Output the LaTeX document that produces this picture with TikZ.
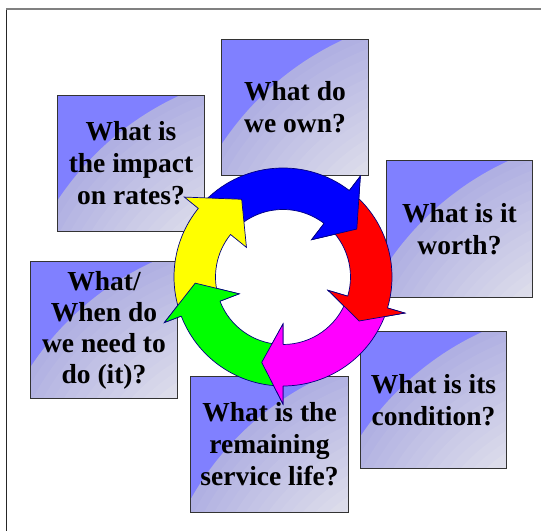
\documentclass[tikz,border=0pt]{standalone}
\usepackage{fontspec}
\setmainfont{Liberation Serif}
\usetikzlibrary{calc,backgrounds}
\definecolor{boxblue}{RGB}{128,128,255}
\definecolor{boxarc}{RGB}{176,176,226}
\definecolor{boxcorner}{RGB}{230,230,236}
\definecolor{rimnavy}{RGB}{0,0,128}
\definecolor{arrblue}{RGB}{0,0,255}
\definecolor{arrred}{RGB}{255,0,0}
\definecolor{arrpink}{RGB}{255,0,255}
\definecolor{arrgreen}{RGB}{0,255,0}
\definecolor{arryellow}{RGB}{255,255,0}
\tikzset{qbox/.style={minimum width=146bp, minimum height=136bp, inner sep=0pt, align=center,
    font=\fontsize{27.5bp}{32bp}\selectfont\bfseries}}
\tikzset{ring/.style={draw=rimnavy, line width=0.7bp}}

\begin{document}
\begin{tikzpicture}[x=1bp,y=1bp]
                    \useasboundingbox (0,0) rectangle (541,531);
                    \draw[gray, line width=2bp] (6,521.5) -- (541,521.5);
                    \draw[black!85, line width=1bp] (6.5,521) -- (6.5,0);

                    \node[qbox] (own) at (295,423.5) {What do\\we own?};
                    \node[qbox] (impact) at (131,367.5) {What is\\the impact\\on rates?};
                    \node[qbox] (worth) at (459.5,302) {What is it\\worth?};
                    \node[qbox, font=\fontsize{27.5bp}{31bp}\selectfont\bfseries] (when) at (104,201) {What/\\When do\\we need to\\do (it)?};
                    \node[qbox] (condition) at (433.5,131) {What is its\\condition?};
                    \node[qbox, minimum width=157bp] (remaining) at (269.5,86.5) {What is the\\remaining\\service life?};

                    % box backgrounds: blue, with a pale glow from the lower right corner
                    \begin{scope}[on background layer]
                    \foreach \b in {own,impact,worth,when,condition,remaining}{
                        \begin{scope}
                        \clip (\b.south west) rectangle (\b.north east);
                        \fill[boxblue] (\b.south west) rectangle (\b.north east);
                        \coordinate (glow) at ($(\b.south east)+(98,-130)$);
                        \foreach \i in {0,...,16}{
                            \pgfmathtruncatemacro\mix{\i*100/16}
                            \fill[boxcorner!\mix!boxarc] (glow) circle[radius=293-9*\i];
                        }
                        \end{scope}
                        \draw[black!80, line width=1bp] (\b.south west) rectangle (\b.north east);
                    }
                    \end{scope}

                    \coordinate (hub) at (283,254);
                    \begin{scope}[shift={(hub)}]
                    \foreach \col/\tail/\neck/\tip in {arrblue/138/52.5/33, arrred/49.5/-16.5/-30, arrpink/-19.5/-90/-104, arrgreen/-93/-159/-176, arryellow/-162/-219/-242}
                        \draw[ring, fill=\col] (\tail:109) arc[start angle=\tail, end angle=\neck, radius=109]
                            -- (\neck:127) -- (\tip:88) -- (\neck:47) -- (\neck:67.5)
                            arc[start angle=\neck, end angle=\tail, radius=67.5] -- cycle;
                    % heads once more, over the next tail
                    \foreach \col/\neck/\tip in {arrblue/52.5/33, arrred/-16.5/-30, arrpink/-90/-104, arrgreen/-159/-176}{
                        \fill[\col] (\neck:127) -- (\tip:88) -- (\neck:47) -- cycle;
                        \draw[ring] (\neck:109) -- (\neck:127) -- (\tip:88) -- (\neck:47) -- (\neck:67.5);
                    }
                    \end{scope}
                \end{tikzpicture}
\end{document}
